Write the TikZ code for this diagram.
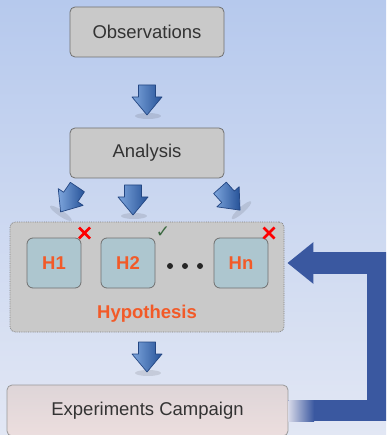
\documentclass[tikz,border=0pt]{standalone}
\usepackage{fontspec}
\setmainfont{Liberation Sans}
\newfontfamily\dejavu{DejaVu Sans}
\usetikzlibrary{arrows.meta,calc}
\definecolor{bgtop}{RGB}{182,201,237}
\definecolor{bgbot}{RGB}{226,231,244}
\definecolor{boxfill}{RGB}{201,201,201}
\definecolor{boxline}{RGB}{112,112,112}
\definecolor{txt}{RGB}{51,51,51}
\definecolor{hfill}{RGB}{173,198,207}
\definecolor{orng}{RGB}{242,90,40}
\definecolor{fbblue}{RGB}{58,88,160}
\definecolor{arrlight}{RGB}{125,165,220}
\definecolor{arrdark}{RGB}{38,82,152}
\definecolor{arrline}{RGB}{35,70,130}
\definecolor{chk}{RGB}{60,105,65}
\definecolor{exptop}{RGB}{222,213,216}
\definecolor{expbot}{RGB}{236,222,222}
\definecolor{fadestart}{RGB}{214,216,232}
\begin{document}
\begin{tikzpicture}[x=1pt,y=-1pt,
  stepbox/.style={draw=boxline, line width=0.8pt, fill=boxfill, rounded corners=5pt,
    minimum width=154pt, minimum height=50pt, inner sep=0pt, text=txt,
    font=\fontsize{18.5}{22}\selectfont},
  hbox/.style={draw=boxline, line width=0.8pt, fill=hfill, rounded corners=6pt,
    minimum width=54pt, minimum height=50pt, inner sep=0pt, text=orng,
    font=\fontsize{18.5}{22}\selectfont\bfseries},
  blockarrow/.pic={
    \fill[black, opacity=0.10] (1,16) ellipse [x radius=13, y radius=3];
    \draw[arrline, line width=0.7pt, line join=round, left color=arrlight, right color=arrdark]
      (-8.5,-15) -- (8.5,-15) -- (8.5,-3) -- (15,-3) -- (0,15) -- (-15,-3) -- (-8.5,-3) -- cycle;
  },
  xmark/.pic={
    \draw[red, line width=2.6pt] (-5.5,-5.5) -- (5.5,5.5) (-5.5,5.5) -- (5.5,-5.5);
  }
]
\useasboundingbox (0,0) rectangle (386,435);
\clip (0,0) rectangle (386,435);
\shade[top color=bgtop, bottom color=bgbot] (0,0) rectangle (386,435);

% boxes
\node[stepbox] (obs) at (147,32) {Observations};
\node[stepbox] (ana) at (147,153) {Analysis};
\node[draw=gray, densely dotted, line width=0.8pt, fill=boxfill, rounded corners=5pt,
      minimum width=274pt, minimum height=110pt, inner sep=0pt] (hyp) at (147,277) {};
\node[hbox] (H1) at (54,263) {H1};
\node[hbox] (H2) at (128,263) {H2};
\node[hbox] (Hn) at (241,263) {Hn};
\fill[black!85] (170,266) circle (3) (185,266) circle (3) (200,266) circle (3);
\node[text=orng, font=\fontsize{18.5}{22}\selectfont\bfseries] (hyplabel) at (147,314) {Hypothesis};
\node[draw=black!40, line width=0.8pt, top color=exptop, bottom color=expbot, rounded corners=5pt,
      minimum width=281pt, minimum height=51pt, inner sep=0pt, text=txt,
      font=\fontsize{18.5}{22}\selectfont] (exp) at (147.5,410.5) {Experiments Campaign};

% marks
\pic at (84.5,233) {xmark};
\pic at (269,233) {xmark};
\node[text=chk, font=\dejavu\fontsize{17}{20}\selectfont, inner sep=0pt] (ok) at (163,232) {✓};

% block arrows
\pic at (147,100) {blockarrow};
\pic[rotate=-34] at (69,199.5) {blockarrow};
\pic at (133,200) {blockarrow};
\pic[rotate=42] at (230,199) {blockarrow};
\pic at (147,357) {blockarrow};

% feedback arrow
\coordinate (fbx) at (377.5,0);
\draw[fbblue, line width=21.5pt, line join=miter, -{Triangle[width=40pt,length=26pt]}, shorten >=3pt]
  (exp.east) -| (fbx |- Hn) -- (hyp.east |- Hn);
\shade[left color=fadestart, right color=fbblue] (288.4,400.25) rectangle (314,421.75);
\end{tikzpicture}
\end{document}
